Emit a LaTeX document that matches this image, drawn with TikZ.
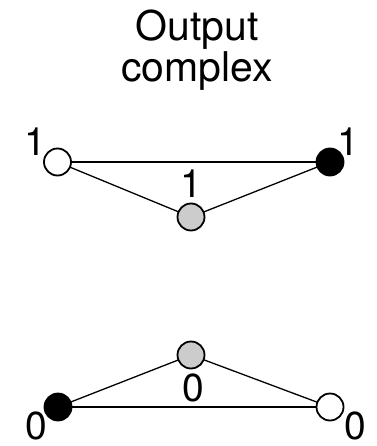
\documentclass[tikz,border=0pt]{standalone}
\usepackage{fontspec}
\setmainfont{TeX Gyre Heros}
\begin{document}
\begin{tikzpicture}[x=1pt,y=-1pt,
  vertex/.style={circle,draw=black,line width=1.8pt,minimum size=27pt,inner sep=0pt},
  white vertex/.style={vertex,fill=white},
  black vertex/.style={vertex,fill=black},
  grey vertex/.style={vertex,fill={rgb,255:red,204;green,204;blue,204}},
  edge/.style={line width=1.3pt,draw=black},
  digit/.style={anchor=base,inner sep=0pt,font=\fontsize{39}{39}\selectfont},
  title/.style={anchor=base,inner sep=0pt,align=center,font=\fontsize{41}{41}\selectfont}]
\useasboundingbox (0,0) rectangle (376,446);

% heading (base anchor sits on the last line)
\node[title] (head) at (197,82) {Output\\complex};

% upper triangle: edges first, vertices drawn over them
\coordinate (u1) at (57.5,162);
\coordinate (u2) at (330,162);
\coordinate (u3) at (191,217);
\draw[edge] (u1) -- (u2);
\draw[edge] (u1) -- (u3);
\draw[edge] (u2) -- (u3);
\node[white vertex] (v1) at (u1) {};
\node[black vertex] (v2) at (u2) {};
\node[grey vertex]  (v3) at (u3) {};
\node[digit] (lu1) at (35,156) {1};
\node[digit] (lu2) at (348,156) {1};
\node[digit] (lu3) at (191,197) {1};

% lower triangle
\coordinate (d1) at (58,407);
\coordinate (d2) at (330,407);
\coordinate (d3) at (191,355);
\draw[edge] (d1) -- (d2);
\draw[edge] (d1) -- (d3);
\draw[edge] (d2) -- (d3);
\node[black vertex] (w1) at (d1) {};
\node[white vertex] (w2) at (d2) {};
\node[grey vertex]  (w3) at (d3) {};
\node[digit] (ld3) at (193,401) {0};
\node[digit] (ld1) at (36,439) {0};
\node[digit] (ld2) at (355,439) {0};
\end{tikzpicture}
\end{document}
